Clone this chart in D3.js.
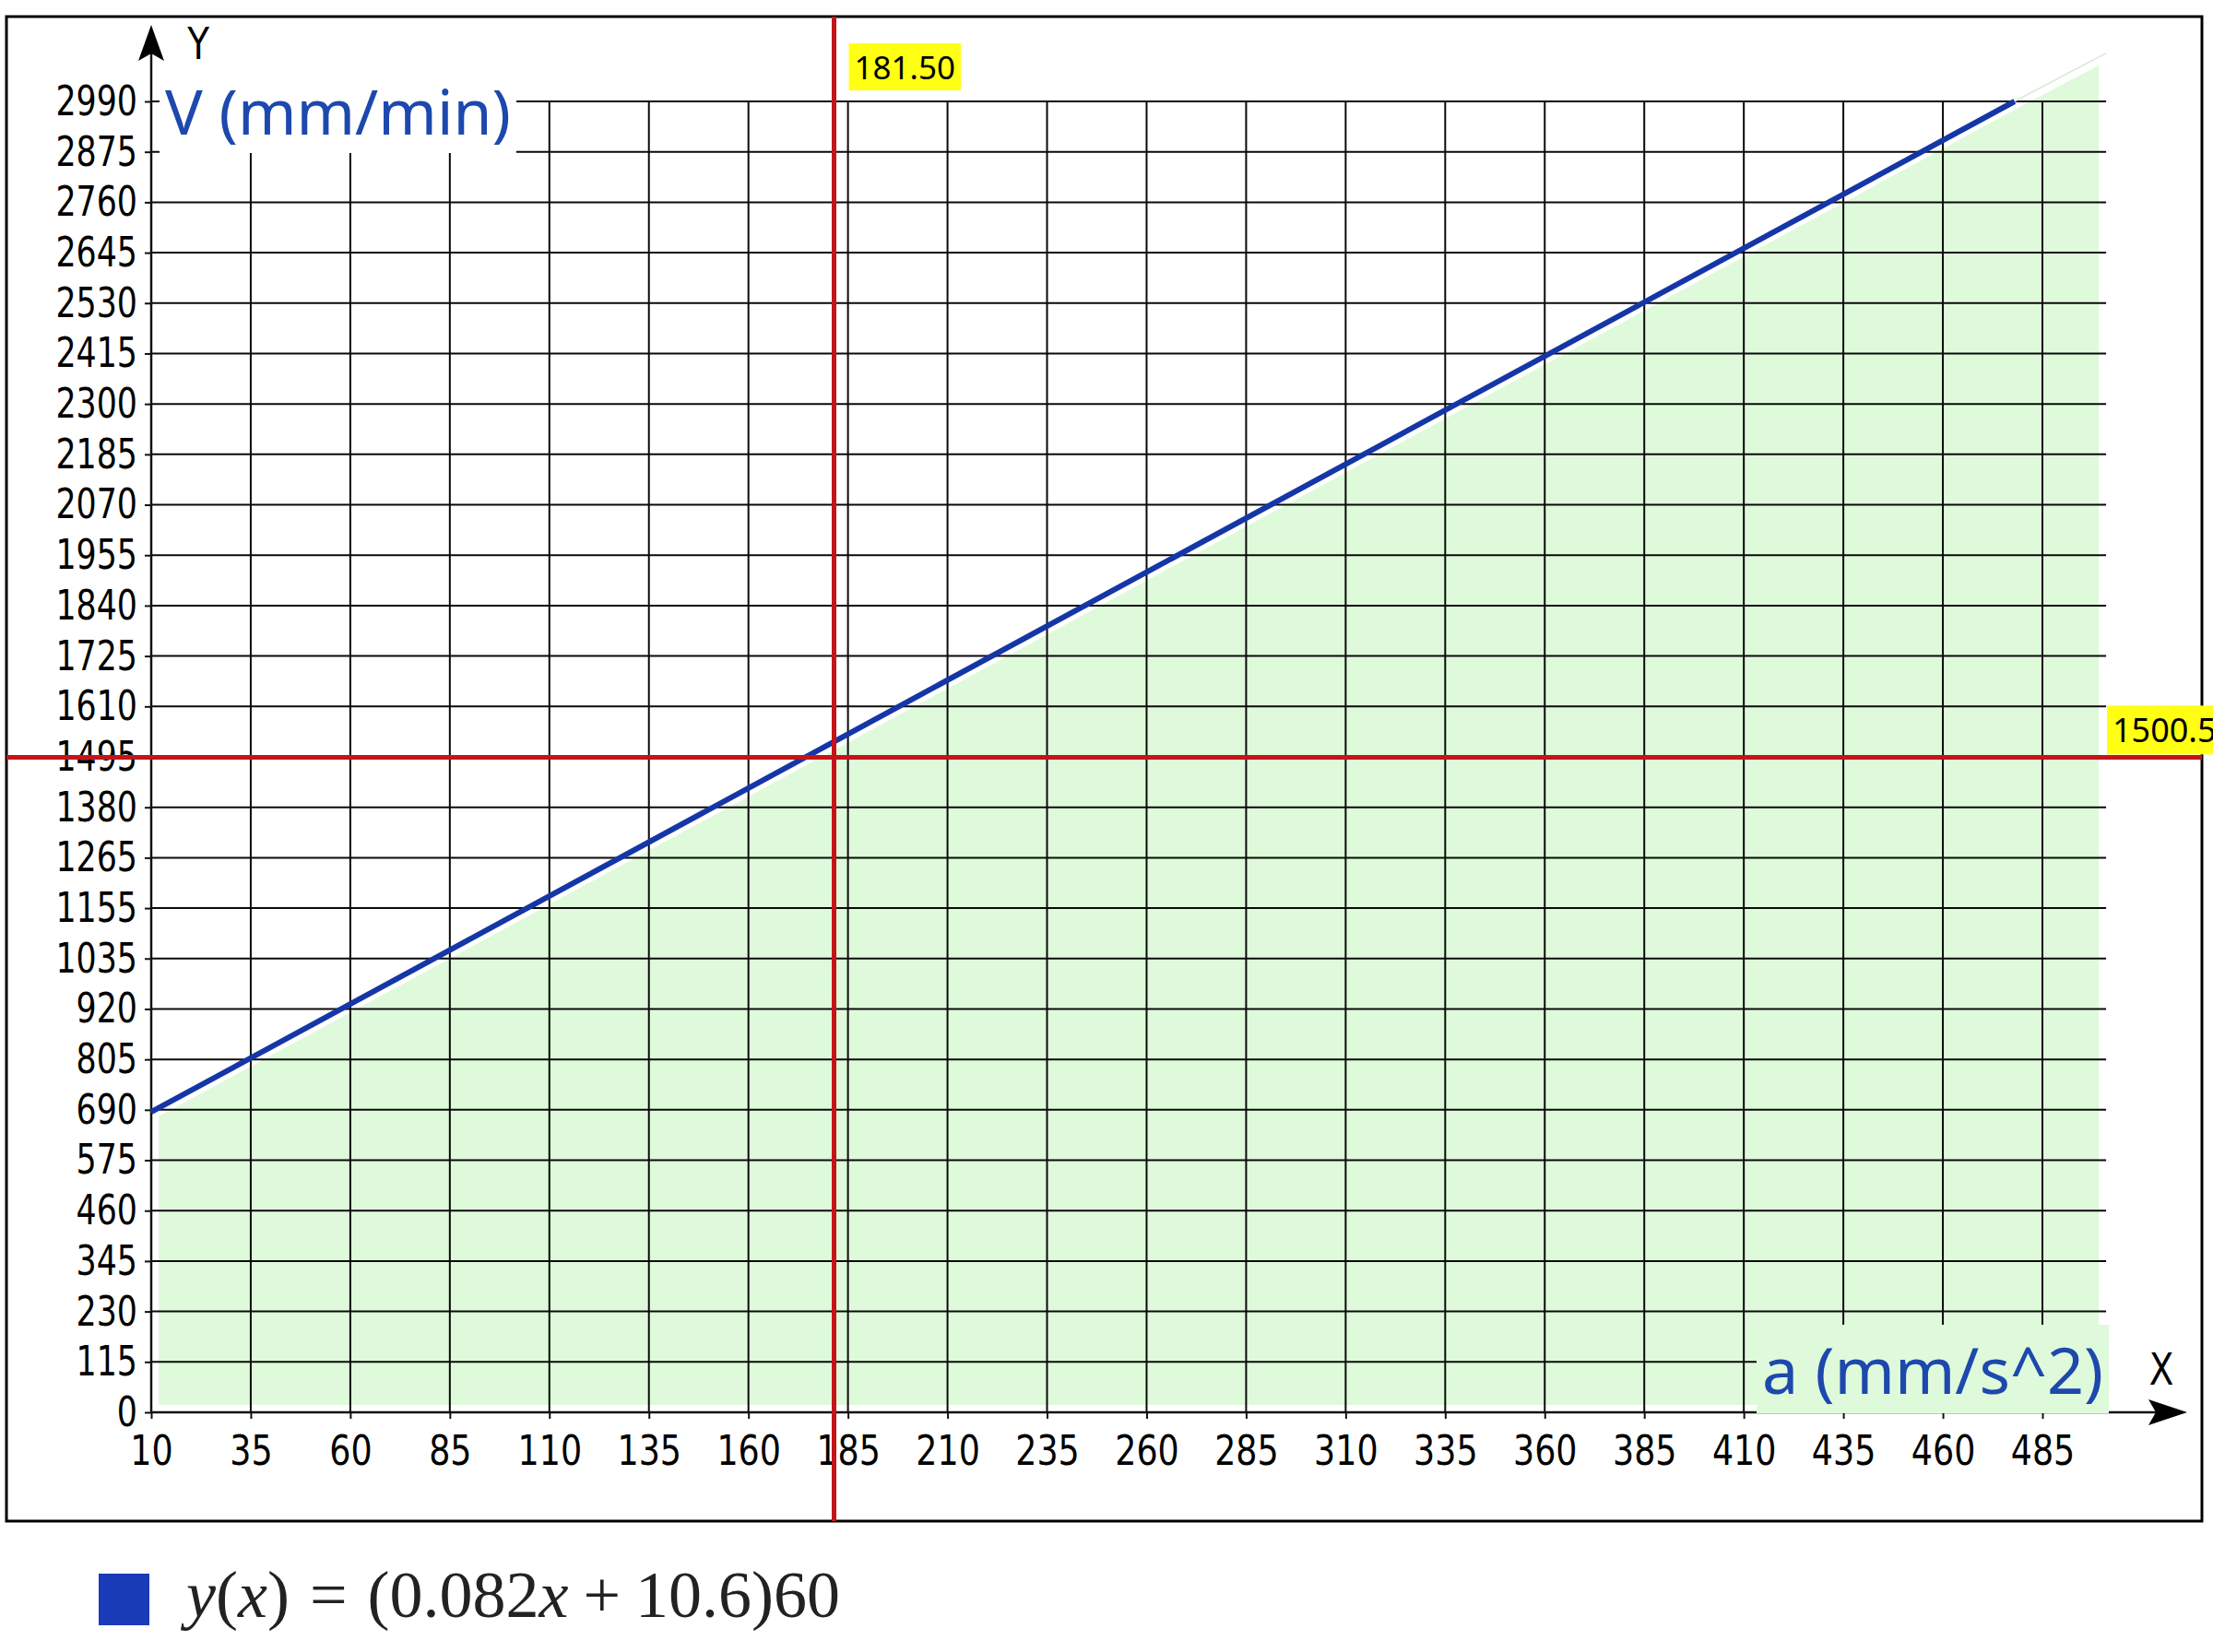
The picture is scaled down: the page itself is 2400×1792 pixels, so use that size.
<!DOCTYPE html>
<html>
<head>
<meta charset="utf-8">
<script src="https://cdn.jsdelivr.net/npm/d3@7"></script>
<style>
  html, body { margin: 0; padding: 0; background: #fff; }
  svg { display: block; }
</style>
</head>
<body>
<svg id="chart"></svg>
<script>
// tick values and labels
const xTicks = [10, 35, 60, 85, 110, 135, 160, 185, 210, 235, 260, 285, 310, 335, 360, 385, 410, 435, 460, 485];
const yTicks = [0, 115, 230, 345, 460, 575, 690, 805, 920, 1035, 1150, 1265, 1380, 1495, 1610, 1725, 1840, 1955, 2070, 2185, 2300, 2415, 2530, 2645, 2760, 2875, 2990];
const yTickLabels = ["0", "115", "230", "345", "460", "575", "690", "805", "920", "1035", "1155", "1265", "1380", "1495", "1610", "1725", "1840", "1955", "2070", "2185", "2300", "2415", "2530", "2645", "2760", "2875", "2990"];

// the plotted line: points (blue part stops at 2990)
const curveX = [10, 478, 501];
const curveY = [685, 2990, 3100];
const xMax = 501;

// red crosshair
const crossX = 181.5, crossXLabel = "181.50";
const crossY = 1500.5, crossYLabel = "1500.5";

const W = 2400, H = 1792;
const tickFont = "'Liberation Sans Narrow', 'DejaVu Sans Condensed', sans-serif";
const blue = "#1536a6";
const red = "#c41418";
const green = "#dffadb";

const svg = d3.select("#chart").attr("width", W).attr("height", H);

const x = d3.scaleLinear().domain([10, 485]).range([164, 2215]);
const y = d3.scaleLinear().domain([0, 2990]).range([1532, 110]);

// squeeze text horizontally around its own x
function narrow(sel, s) {
  sel.each(function() {
    const t = d3.select(this);
    const tx = +t.attr("x") || 0;
    t.attr("transform", `translate(${tx * (1 - s)},0) scale(${s},1)`);
  });
}

// outer frame
svg.append("rect")
    .attr("x", 7).attr("y", 18)
    .attr("width", 2381).attr("height", 1632)
    .attr("fill", "#fff")
    .attr("stroke", "#000")
    .attr("stroke-width", 3);

const pts = curveX.map((v, i) => [v, curveY[i]]);

// area under the line
svg.append("path")
    .datum(pts)
    .attr("d", d3.area().x(d => x(d[0])).y0(y(0)).y1(d => y(d[1])))
    .attr("fill", green)
    .attr("stroke", "#fff")
    .attr("stroke-width", 16);

// grid
const grid = svg.append("g").attr("stroke", "#0a0a0a").attr("stroke-width", 2);
grid.selectAll("line.v")
  .data(xTicks)
  .join("line")
    .attr("class", "v")
    .attr("x1", d => x(d)).attr("x2", d => x(d))
    .attr("y1", y(0)).attr("y2", y(2990));
grid.selectAll("line.h")
  .data(yTicks)
  .join("line")
    .attr("class", "h")
    .attr("x1", x(10)).attr("x2", x(xMax))
    .attr("y1", d => y(d)).attr("y2", d => y(d));

// axes
const xAxis = svg.append("g")
    .attr("transform", `translate(0,${y(0)})`)
    .call(d3.axisBottom(x).tickValues(xTicks).tickFormat(d3.format("d")).tickSize(7).tickPadding(18));
const yAxis = svg.append("g")
    .attr("transform", `translate(${x(10)},0)`)
    .call(d3.axisLeft(y).tickValues(yTicks).tickFormat((d, i) => yTickLabels[i]).tickSize(7).tickPadding(8));
[xAxis, yAxis].forEach(a => {
  a.select(".domain").remove();
  a.selectAll(".tick line").attr("stroke", "#111").attr("stroke-width", 2);
  a.selectAll("text")
    .attr("fill", "#000")
    .style("font-family", tickFont)
    .style("font-size", "45px");
});
narrow(yAxis.selectAll("text"), 0.86);
narrow(xAxis.selectAll("text"), 0.9);

// axis lines with arrows
svg.append("line")
    .attr("x1", x(10)).attr("x2", 2350)
    .attr("y1", y(0)).attr("y2", y(0))
    .attr("stroke", "#111").attr("stroke-width", 2.5);
svg.append("path")
    .attr("d", `M2372,${y(0)} L2330,${y(0) - 14} L2338,${y(0)} L2330,${y(0) + 14} Z`)
    .attr("fill", "#000");
svg.append("line")
    .attr("x1", x(10)).attr("x2", x(10))
    .attr("y1", y(0)).attr("y2", 50)
    .attr("stroke", "#111").attr("stroke-width", 2.5);
svg.append("path")
    .attr("d", `M${x(10)},27 L${x(10) - 14},66 L${x(10)},58 L${x(10) + 14},66 Z`)
    .attr("fill", "#000");

narrow(svg.append("text")
    .attr("x", 215).attr("y", 64)
    .attr("text-anchor", "middle")
    .style("font-family", tickFont).style("font-size", "48px")
    .text("Y"), 0.9);
narrow(svg.append("text")
    .attr("x", 2344).attr("y", 1502)
    .attr("text-anchor", "middle")
    .style("font-family", tickFont).style("font-size", "48px")
    .text("X"), 0.9);

// the line itself
svg.append("path")
    .datum(pts)
    .attr("d", d3.line().x(d => x(d[0])).y(d => y(d[1])))
    .attr("fill", "none")
    .attr("stroke", "#d4ecd0")
    .attr("stroke-width", 1.5);
svg.append("path")
    .datum(pts.slice(0, 2))
    .attr("d", d3.line().x(d => x(d[0])).y(d => y(d[1])))
    .attr("fill", "none")
    .attr("stroke", blue)
    .attr("stroke-width", 6);

// axis titles with background boxes
function boxedText(tx, ty, anchor, label, bg, size, color, font, padX, padY) {
  const g = svg.append("g");
  const r = g.append("rect").attr("fill", bg);
  const t = g.append("text")
      .attr("x", tx).attr("y", ty)
      .attr("text-anchor", anchor)
      .attr("fill", color)
      .style("font-family", font)
      .style("font-size", size + "px")
      .text(label);
  const b = t.node().getBBox();
  r.attr("x", b.x - padX).attr("y", b.y - padY)
   .attr("width", b.width + 2 * padX).attr("height", b.height + 2 * padY);
  return g;
}

boxedText(179, 146, "start", "V (mm/min)", "#fff", 68, "#1d48ad", "'Noto Sans', sans-serif", 6, 0);
boxedText(2281, 1512, "end", "a (mm/s^2)", green, 70, "#1d48ad", "'Noto Sans', sans-serif", 6, 0);

// red crosshair
svg.append("line")
    .attr("x1", x(crossX)).attr("x2", x(crossX))
    .attr("y1", 18).attr("y2", 1650)
    .attr("stroke", red).attr("stroke-width", 5);
svg.append("line")
    .attr("x1", 7).attr("x2", 2388)
    .attr("y1", y(crossY) + 3).attr("y2", y(crossY) + 3)
    .attr("stroke", red).attr("stroke-width", 5);

boxedText(x(crossX) + 22, 86, "start", crossXLabel, "#ffff14", 35, "#000", "'Noto Sans', sans-serif", 6, 2);
boxedText(2291, y(crossY) - 13, "start", crossYLabel, "#ffff14", 36, "#000", "'Noto Sans', sans-serif", 6, 2);

// legend
const legend = svg.append("g");
legend.append("rect")
    .attr("x", 107).attr("y", 1707)
    .attr("width", 55).attr("height", 56)
    .attr("fill", "#1a3bb8");
const lt = legend.append("text")
    .attr("x", 202).attr("y", 1754)
    .style("font-family", "'Liberation Serif', 'DejaVu Serif', serif")
    .style("font-size", "72px")
    .attr("fill", "#222");
lt.append("tspan").style("font-style", "italic").text("y");
lt.append("tspan").text("(");
lt.append("tspan").style("font-style", "italic").text("x");
lt.append("tspan").text(")");
lt.append("tspan").attr("dx", 22).text("=");
lt.append("tspan").attr("dx", 22).text("(0.082");
lt.append("tspan").style("font-style", "italic").text("x");
lt.append("tspan").attr("dx", 16).text("+");
lt.append("tspan").attr("dx", 16).text("10.6)60");
</script>
</body>
</html>
